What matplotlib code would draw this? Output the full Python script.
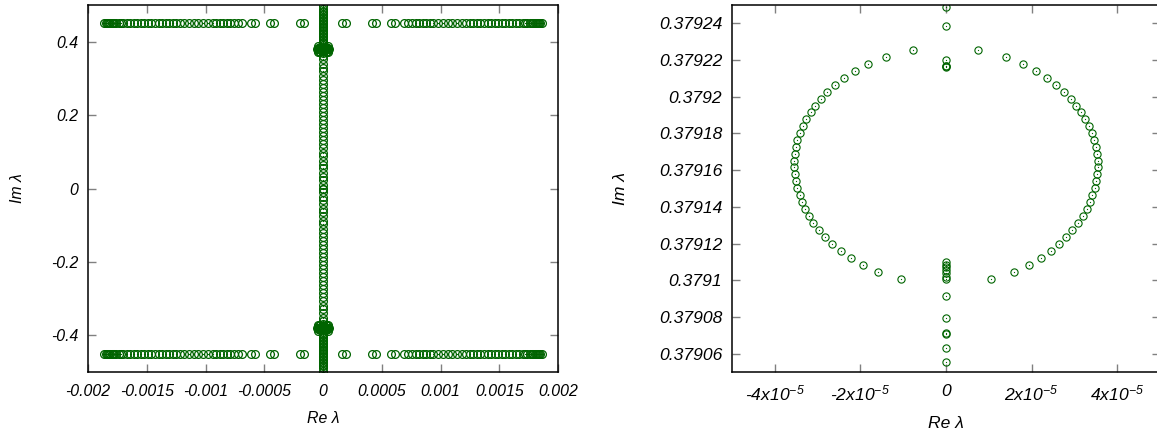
import numpy as np
import matplotlib
matplotlib.use("Agg")
import matplotlib.pyplot as plt

plt.rcParams['font.family'] = ['Liberation Sans', 'DejaVu Sans']
plt.rcParams['font.style'] = 'italic'
plt.rcParams['axes.unicode_minus'] = False
plt.rcParams['mathtext.fontset'] = 'custom'
plt.rcParams['mathtext.rm'] = 'Liberation Sans:italic'
plt.rcParams['mathtext.it'] = 'Liberation Sans:italic'
plt.rcParams['mathtext.default'] = 'rm'

# ---------------- data ----------------
# rows of eigenvalues near Im = +-0.45 (negative-Re half; spectrum symmetric)
row_re_neg = [-0.00186, -0.00185, -0.00184, -0.00183, -0.00182, -0.00181, -0.00180,
              -0.00179, -0.00178, -0.00176, -0.00174, -0.00172, -0.00170, -0.00167,
              -0.00164, -0.00161, -0.00158, -0.00155, -0.00152, -0.00149, -0.00146,
              -0.00143, -0.00140, -0.00137, -0.00134, -0.00131, -0.00128, -0.00125,
              -0.00122, -0.00118, -0.00114, -0.00110, -0.00106, -0.00102, -0.00098,
              -0.00094, -0.00091, -0.00088, -0.00085, -0.00082, -0.00079, -0.00076,
              -0.00072, -0.00069, -0.00061, -0.00058, -0.00045, -0.00042,
              -0.000195, -0.000165]
row_im = 0.45

# purely imaginary eigenvalues (Re = 0), upper half (conjugates mirrored)
column_im = [0.497, 0.490, 0.485, 0.480, 0.476, 0.472, 0.468, 0.464, 0.460, 0.456,
             0.452, 0.448, 0.444, 0.440, 0.436, 0.432, 0.428, 0.424, 0.420, 0.416,
             0.412, 0.408, 0.404, 0.400, 0.396,
             0.362, 0.352, 0.340, 0.329, 0.319, 0.307, 0.296, 0.286, 0.274, 0.263,
             0.253, 0.241, 0.230, 0.220, 0.208, 0.197, 0.187, 0.175, 0.164, 0.154,
             0.142, 0.131, 0.121, 0.109, 0.098, 0.088, 0.076, 0.065, 0.055, 0.043,
             0.032, 0.022, 0.010, 0.0]

# eigenvalues clustered around Im ~ 0.38 (outside the zoom window)
cluster_re = [-4.5e-5, -2.5e-5, 0.0, 2.5e-5, 4.5e-5, -4.5e-5, -2.5e-5, 0.0, 2.5e-5,
              4.5e-5, -4.0e-5, 0.0, 4.0e-5, -4.0e-5, 0.0, 4.0e-5,
              -2.0e-5, 2.0e-5, -2.0e-5, 2.0e-5, -5.0e-5, 5.0e-5, -1.0e-5, 1.0e-5]
cluster_im = [0.371, 0.372, 0.374, 0.372, 0.371, 0.387, 0.386, 0.384, 0.386, 0.387,
              0.376, 0.368, 0.376, 0.382, 0.390, 0.382,
              0.378, 0.378, 0.380, 0.380, 0.379, 0.379, 0.377, 0.381]

# zoomed cluster near Im = 0.37916: ellipse of eigenvalues
ellipse_re = [-7.65e-6, -1.41e-5, -1.82e-5, -2.12e-5, -2.38e-5, -2.59e-5, -2.77e-5,
              -2.92e-5, -3.06e-5, -3.16e-5, -3.26e-5, -3.34e-5, -3.42e-5, -3.47e-5,
              -3.51e-5, -3.53e-5, -3.55e-5, -3.55e-5, -3.53e-5, -3.51e-5, -3.47e-5,
              -3.42e-5, -3.37e-5, -3.30e-5, -3.20e-5, -3.11e-5, -2.97e-5, -2.83e-5,
              -2.66e-5, -2.46e-5, -2.23e-5, -1.93e-5, -1.58e-5, -1.05e-5,
              7.56e-6, 1.40e-5, 1.81e-5, 2.11e-5, 2.36e-5, 2.57e-5, 2.75e-5,
              2.92e-5, 3.04e-5, 3.16e-5, 3.25e-5, 3.34e-5, 3.41e-5, 3.46e-5,
              3.50e-5, 3.53e-5, 3.54e-5, 3.54e-5, 3.53e-5, 3.51e-5, 3.47e-5,
              3.42e-5, 3.37e-5, 3.29e-5, 3.19e-5, 3.08e-5, 2.95e-5, 2.81e-5,
              2.65e-5, 2.45e-5, 2.22e-5, 1.93e-5, 1.58e-5, 1.05e-5]
ellipse_im_half = [0.3792255, 0.3792217, 0.3792179, 0.3792142, 0.3792104, 0.3792066,
                   0.3792028, 0.3791990, 0.3791952, 0.3791916, 0.3791878, 0.3791840,
                   0.3791802, 0.3791764, 0.3791727, 0.3791689, 0.3791651, 0.3791615,
                   0.3791577, 0.3791539, 0.3791501, 0.3791463, 0.3791425, 0.3791386,
                   0.3791348, 0.3791310, 0.3791272, 0.3791236, 0.3791198, 0.3791160,
                   0.3791122, 0.3791084, 0.3791046, 0.3791008]
ellipse_im = ellipse_im_half + ellipse_im_half

# Re = 0 eigenvalues inside the zoom window
axis_im = [0.3792487, 0.3792387, 0.3792200, 0.3792170, 0.3792166, 0.3792162,
           0.3791100, 0.3791085, 0.3791070, 0.3791055, 0.3791040, 0.3791020,
           0.3791005, 0.3790913, 0.3790796, 0.3790711, 0.3790707, 0.3790630,
           0.3790557]

left_xticks = [-0.002, -0.0015, -0.001, -0.0005, 0, 0.0005, 0.001, 0.0015, 0.002]
left_xlabels = ['-0.002', '-0.0015', '-0.001', '-0.0005', '0', '0.0005', '0.001',
                '0.0015', '0.002']
left_yticks = [-0.4, -0.2, 0, 0.2, 0.4]
left_ylabels = ['-0.4', '-0.2', '0', '0.2', '0.4']
right_xticks = [-4e-5, -2e-5, 0, 2e-5, 4e-5]
right_xlabels = ['-4x10$^{-5}$', '-2x10$^{-5}$', '0', '2x10$^{-5}$', '4x10$^{-5}$']
right_yticks = [0.37906, 0.37908, 0.37910, 0.37912, 0.37914, 0.37916, 0.37918,
                0.37920, 0.37922, 0.37924]
right_ylabels = ['0.37906', '0.37908', '0.3791', '0.37912', '0.37914', '0.37916',
                 '0.37918', '0.3792', '0.37922', '0.37924']

GREEN = '#006400'

fig = plt.figure(figsize=(11.57, 4.32), dpi=100)
axL = fig.add_axes([88/1157, 1-372/432, 470/1157, 367/432])
axR = fig.add_axes([732/1157, 1-372/432, 428/1157, 367/432])


def pts(ax, x, y, ms=5.2, mew=0.8):
    ax.plot(x, y, linestyle='none', marker='o', markersize=ms,
            markerfacecolor='none', markeredgecolor=GREEN, markeredgewidth=mew)
    ax.plot(x, y, linestyle='none', marker='o', markersize=0.9,
            markerfacecolor=GREEN, markeredgecolor=GREEN, markeredgewidth=0.0)


rr = np.array(row_re_neg)
ci = np.array(column_im)
ei = np.array(ellipse_im)
er = np.array(ellipse_re)
axi = np.array(axis_im)
cr = np.array(cluster_re)
cim = np.array(cluster_im)
# left panel: full spectrum
kw = dict(ms=5.6, mew=0.9)
pts(axL, np.concatenate([rr, -rr, rr, -rr]),
    np.concatenate([np.full(rr.size, row_im), np.full(rr.size, row_im),
                    np.full(rr.size, -row_im), np.full(rr.size, -row_im)]), **kw)
pts(axL, np.zeros(2 * ci.size), np.concatenate([ci, -ci]), **kw)
pts(axL, np.concatenate([cr, cr]), np.concatenate([cim, -cim]), **kw)
pts(axL, np.concatenate([er, er]), np.concatenate([ei, -ei]), **kw)
pts(axL, np.zeros(2 * axi.size), np.concatenate([axi, -axi]), **kw)

# right panel: zoom
pts(axR, er, ei)
pts(axR, np.zeros(axi.size), axi)

axL.set_xlim(-0.002, 0.002)
axL.set_ylim(-0.5, 0.5)
axR.set_xlim(-5e-5, 5e-5)
axR.set_ylim(0.37905, 0.37925)

axL.set_xticks(left_xticks, left_xlabels)
axL.set_yticks(left_yticks, left_ylabels)
axR.set_xticks(right_xticks, right_xlabels)
axR.set_yticks(right_yticks, right_ylabels)

for ax, fs, ylp in ((axL, 11.4, 19), (axR, 12.6, 22)):
    for s in ax.spines.values():
        s.set_linewidth(1.1)
        s.set_color('black')
    ax.tick_params(direction='in', length=6, width=1.0, color='#808080',
                   top=True, right=True, labelsize=fs)
    ax.tick_params(axis='x', pad=8.5)
    ax.tick_params(axis='y', pad=7)
    ax.set_xlabel('Re λ', fontsize=fs, labelpad=8.5)
    ax.set_ylabel('Im λ', fontsize=fs, labelpad=ylp)

fig.savefig('out.png', dpi=100)
